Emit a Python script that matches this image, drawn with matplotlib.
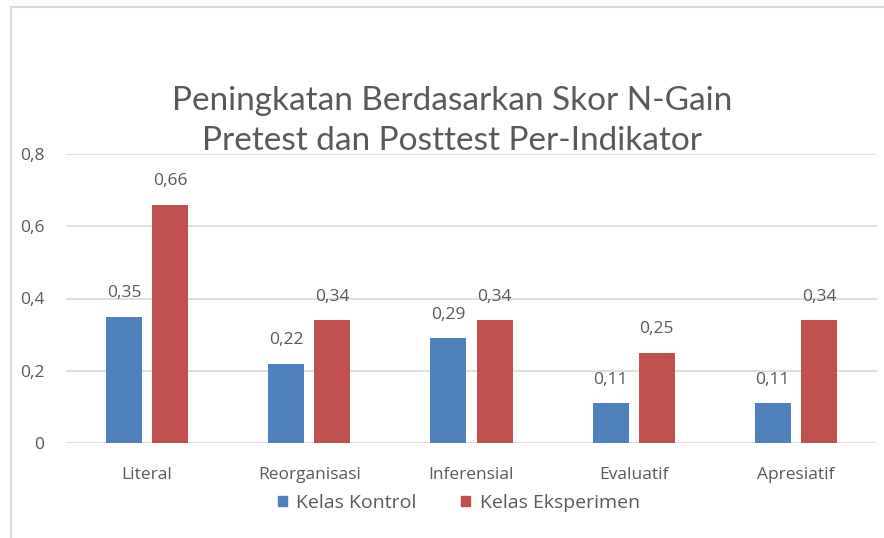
import matplotlib
matplotlib.use("Agg")
import matplotlib.pyplot as plt
from matplotlib.patches import Rectangle, Patch
import numpy as np

categories = ["Literal", "Reorganisasi", "Inferensial", "Evaluatif", "Apresiatif"]
kontrol = [0.35, 0.22, 0.29, 0.11, 0.11]
eksperimen = [0.66, 0.34, 0.34, 0.25, 0.34]
kontrol_labels = ["0,35", "0,22", "0,29", "0,11", "0,11"]
eksperimen_labels = ["0,66", "0,34", "0,34", "0,25", "0,34"]
yticks = [0, 0.2, 0.4, 0.6, 0.8]
ytick_labels = ["0", "0,2", "0,4", "0,6", "0,8"]
series_names = ["Kelas Kontrol", "Kelas Eksperimen"]

plt.rcParams['font.family'] = ['Open Sans', 'DejaVu Sans']
txt = "#595959"
blue = "#4F81BD"
red = "#C0504D"

fig = plt.figure(figsize=(8.84, 5.38), dpi=100)
fig.patches.append(Rectangle((11/884, -0.1), 1.2, 1 - 7/538 + 0.1, transform=fig.transFigure,
                             facecolor="white", edgecolor="#D9D9D9", linewidth=1.5, zorder=-5))
ax = fig.add_axes([66/884, 1 - 443/538, 811/884, (443 - 154)/538])
ax.set_zorder(2)
ax.set_facecolor("none")

x = np.arange(len(categories))
w = 0.222
gap = 0.062
b1 = ax.bar(x - (w + gap) / 2, kontrol, w, color=blue, zorder=3)
b2 = ax.bar(x + (w + gap) / 2, eksperimen, w, color=red, zorder=3)
for bars, labs in ((b1, kontrol_labels), (b2, eksperimen_labels)):
    for r, lab in zip(bars, labs):
        ax.annotate(lab, (r.get_x() + r.get_width() / 2, r.get_height()), xytext=(0, 11),
                    textcoords="offset points", ha="center", va="bottom", fontsize=12.5, color=txt)

ax.set_xlim(-0.5, len(categories) - 0.5)
ax.set_ylim(0, 0.8)
ax.set_yticks(yticks)
ax.set_yticklabels(ytick_labels)
ax.set_xticks(x)
ax.set_xticklabels(categories)
ax.tick_params(axis="both", length=0, labelsize=12.5, colors=txt)
ax.tick_params(axis="x", pad=17)
ax.tick_params(axis="y", pad=15.5)
ax.grid(axis="y", color="#D9D9D9", linewidth=1.2, zorder=0)
for s in ax.spines.values():
    s.set_visible(False)

fig.text(452/884, 1 - 121/538, "Peningkatan Berdasarkan Skor N-Gain\nPretest dan Posttest Per-Indikator",
         ha="center", va="center", fontsize=24, color=txt, linespacing=1.4, zorder=5,
         family=['Lato', 'DejaVu Sans'])

handles = [Patch(color=blue), Patch(color=red)]
fig.legend(handles, series_names, loc="center", bbox_to_anchor=(459/884, 1 - 503/538), ncol=2,
           frameon=False, fontsize=14, labelcolor=txt, handlelength=0.45, handleheight=0.45,
           handletextpad=0.5, columnspacing=2.3)

fig.savefig("out.png", dpi=100)
